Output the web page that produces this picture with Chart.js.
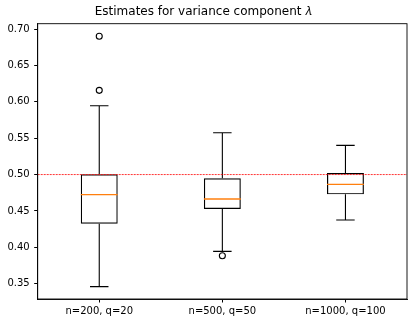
<!DOCTYPE html>
<html>
<head>
<meta charset="utf-8">
<script src="https://cdn.jsdelivr.net/npm/chart.js@4/dist/chart.umd.min.js"></script>
<style>
html,body{margin:0;padding:0;background:#fff;}
#wrap{width:415px;height:324px;position:relative;}
</style>
</head>
<body>
<div id="wrap"><canvas id="c" width="415" height="324"></canvas></div>
<script>
const categories = ['n=200, q=20', 'n=500, q=50', 'n=1000, q=100'];
const whiskerLow = [0.346, 0.3944, 0.4375];
const q1 = [0.4324, 0.4526, 0.4728];
const median = [0.4723, 0.4664, 0.4865];
const q3 = [0.5003, 0.4948, 0.5021];
const whiskerHigh = [0.5946, 0.5575, 0.5401];
const outliers = [[0.690, 0.6157], [0.3885], []];
const yTicks = [0.35, 0.40, 0.45, 0.50, 0.55, 0.60, 0.65, 0.70];
const refValue = 0.5;
const titleText = 'Estimates for variance component \u{1D706}';

const boxData = categories.map((c, i) => [q1[i], q3[i]]);
const outlierPoints = [];
outliers.forEach((arr, i) => arr.forEach(v => outlierPoints.push({x: categories[i], y: v})));

const boxPlugin = {
  id: 'boxExtras',
  afterDatasetsDraw(chart) {
    const ctx = chart.ctx;
    const xs = chart.scales.x, ys = chart.scales.y;
    const area = chart.chartArea;
    const catW = xs.getPixelForValue(1) - xs.getPixelForValue(0);
    ctx.save();
    ctx.beginPath();
    ctx.rect(area.left, area.top, area.right - area.left, area.bottom - area.top);
    ctx.clip();
    for (let i = 0; i < categories.length; i++) {
      const cx = xs.getPixelForValue(i);
      const capHalf = catW * 0.075;
      const boxHalf = catW * 0.15;
      ctx.strokeStyle = '#000';
      ctx.lineWidth = 1.1;
      ctx.setLineDash([]);
      ctx.beginPath();
      ctx.moveTo(cx, ys.getPixelForValue(q3[i]));
      ctx.lineTo(cx, ys.getPixelForValue(whiskerHigh[i]));
      ctx.moveTo(cx - capHalf, ys.getPixelForValue(whiskerHigh[i]));
      ctx.lineTo(cx + capHalf, ys.getPixelForValue(whiskerHigh[i]));
      ctx.moveTo(cx, ys.getPixelForValue(q1[i]));
      ctx.lineTo(cx, ys.getPixelForValue(whiskerLow[i]));
      ctx.moveTo(cx - capHalf, ys.getPixelForValue(whiskerLow[i]));
      ctx.lineTo(cx + capHalf, ys.getPixelForValue(whiskerLow[i]));
      ctx.stroke();
      ctx.strokeStyle = '#ff7f0e';
      ctx.lineWidth = 1.3;
      ctx.beginPath();
      ctx.moveTo(cx - boxHalf, ys.getPixelForValue(median[i]));
      ctx.lineTo(cx + boxHalf, ys.getPixelForValue(median[i]));
      ctx.stroke();
    }
    const ry = ys.getPixelForValue(refValue);
    ctx.strokeStyle = '#ff0000';
    ctx.lineWidth = 0.8;
    ctx.setLineDash([2, 1]);
    ctx.beginPath();
    ctx.moveTo(area.left, ry);
    ctx.lineTo(area.right, ry);
    ctx.stroke();
    ctx.restore();
    ctx.save();
    ctx.strokeStyle = '#000';
    ctx.lineWidth = 0.9;
    ctx.strokeRect(area.left, area.top, area.right - area.left, area.bottom - area.top);
    ctx.restore();
  }
};

new Chart(document.getElementById('c'), {
  data: {
    labels: categories,
    datasets: [
      {
        type: 'bar',
        data: boxData,
        backgroundColor: 'rgba(0,0,0,0)',
        borderColor: '#000',
        borderWidth: 1.2,
        borderSkipped: false,
        barPercentage: 0.3,
        categoryPercentage: 1.0,
        order: 2
      },
      {
        type: 'line',
        data: outlierPoints,
        showLine: false,
        pointStyle: 'circle',
        pointRadius: 3,
        pointBorderWidth: 1.1,
        pointBorderColor: '#000',
        pointBackgroundColor: 'rgba(0,0,0,0)',
        order: 1
      }
    ]
  },
  options: {
    responsive: false,
    animation: false,
    events: [],
    layout: {padding: {left: 0, right: 8, top: 0, bottom: 0}},
    plugins: {
      legend: {display: false},
      tooltip: {enabled: false},
      title: {
        display: true,
        text: titleText,
        color: '#000',
        font: {family: 'DejaVu Sans', size: 12, weight: 'normal'},
        padding: {top: 5, bottom: 4.3}
      }
    },
    scales: {
      x: {
        type: 'category',
        offset: true,
        grid: {display: true, drawOnChartArea: false, drawTicks: true, tickLength: 3.5, color: '#000', offset: false},
        border: {display: true, color: '#000', width: 0.9},
        ticks: {color: '#000', font: {family: 'DejaVu Sans', size: 10}, padding: 3, maxRotation: 0, autoSkip: false},
        afterFit(scale) { scale.height = 25; }
      },
      y: {
        type: 'linear',
        min: 0.329,
        max: 0.7073,
        grid: {display: true, drawOnChartArea: false, drawTicks: true, tickLength: 3.5, color: '#000'},
        border: {display: true, color: '#000', width: 0.9},
        ticks: {color: '#000', font: {family: 'DejaVu Sans', size: 10}, padding: 4.5,
          callback: v => Number(v).toFixed(2)},
        afterBuildTicks(scale) { scale.ticks = yTicks.map(v => ({value: v})); },
        afterFit(scale) { scale.width = 37.7; }
      }
    }
  },
  plugins: [boxPlugin]
});
</script>
</body>
</html>
